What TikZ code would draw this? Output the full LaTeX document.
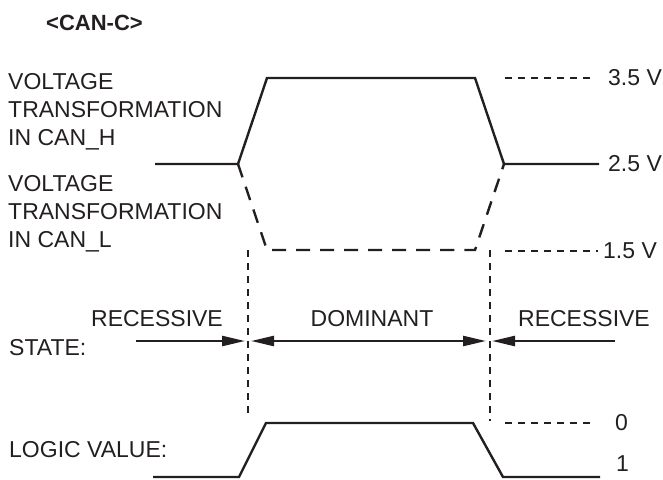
\documentclass[tikz,border=0pt]{standalone}
\usepackage{fontspec}
\setmainfont{Liberation Sans}
\usepackage{tikz}
\usetikzlibrary{
  arrows.meta,
  positioning,
  calc
}
\definecolor{ink}{RGB}{35,31,32}

\tikzset{
  lbl/.style={inner sep=0pt, font=\fontsize{23}{28}\selectfont, text=ink},
  sig/.style={draw=ink, line width=2.4pt, line join=miter},
  sigdash/.style={sig, dash pattern=on 14pt off 10pt},
  guide/.style={draw=ink, line width=1.1pt, dash pattern=on 7pt off 6pt},
  statearrow/.style={draw=ink, line width=2.4pt, -{Triangle[length=23pt, width=10pt]}}
}

\begin{document}
\begin{tikzpicture}[x=1pt, y=-1pt]
  \useasboundingbox (0,0) rectangle (663,479);

  % title and row labels
  \node[lbl, anchor=west, font=\fontsize{22}{26}\selectfont\bfseries] (title) at (46,23) {<CAN-C>};
  \node[lbl, anchor=west, align=left] (hlab) at (8,112) {VOLTAGE\\TRANSFORMATION\\IN CAN\_H};
  \node[lbl, anchor=west, align=left] (llab) at (8,214) {VOLTAGE\\TRANSFORMATION\\IN CAN\_L};
  \node[lbl, anchor=west] (statelab) at (9,348) {STATE:};
  \node[lbl, anchor=west] (logiclab) at (9,450) {LOGIC VALUE:};

  % level labels
  \node[lbl, anchor=west] (v35) at (608,78) {3.5 V};
  \node[lbl, anchor=west] (v25) at (608,164) {2.5 V};
  \node[lbl, anchor=west] (v15) at (603,251) {1.5 V};
  \node[lbl, anchor=west] (lg0) at (615,423) {0};
  \node[lbl, anchor=west] (lg1) at (616,464) {1};

  % bus corners
  \coordinate (h0) at (155,164);
  \coordinate (h1) at (238,164);
  \coordinate (h2) at (267,78);
  \coordinate (h3) at (475,78);
  \coordinate (h4) at (504,164);
  \coordinate (h5) at (599,164);
  \coordinate (l2) at (267,250);
  \coordinate (l3) at (475,250);

  \draw[sig] (h0) -- (h1) -- (h2) -- (h3) -- (h4) -- (h5);
  \draw[sigdash] (h1) -- (l2) -- (l3) -- (h4);

  % level guides
  \draw[guide] (505,78) -- (592,78);
  \draw[guide] (505,251) -- (598,251);
  \draw[guide] (505,423) -- (593,423);

  % bit borders
  \coordinate (bl) at (248,250);
  \coordinate (br) at (490,250);
  \draw[guide] (bl) -- (248,415);
  \draw[guide] (br) -- (490,421);

  % states
  \node[lbl] (rec1) at (157,319) {RECESSIVE};
  \node[lbl] (dom) at (372,319) {DOMINANT};
  \node[lbl] (rec2) at (584,319) {RECESSIVE};
  \coordinate (s0) at (136,341);
  \coordinate (s1) at (245,341);
  \coordinate (s2) at (251,341);
  \coordinate (s3) at (486,341);
  \coordinate (s4) at (492,341);
  \coordinate (s5) at (615,341);
  \draw[statearrow] (s0) -- (s1);
  \draw[statearrow, {Triangle[length=23pt, width=10pt]}-{Triangle[length=23pt, width=10pt]}] (s2) -- (s3);
  \draw[statearrow] (s5) -- (s4);

  % logic level
  \coordinate (g0) at (153,477);
  \coordinate (g1) at (239,477);
  \coordinate (g2) at (266,423);
  \coordinate (g3) at (473,423);
  \coordinate (g4) at (503,477);
  \coordinate (g5) at (600,477);
  \draw[sig] (g0) -- (g1) -- (g2) -- (g3) -- (g4) -- (g5);
\end{tikzpicture}
\end{document}
